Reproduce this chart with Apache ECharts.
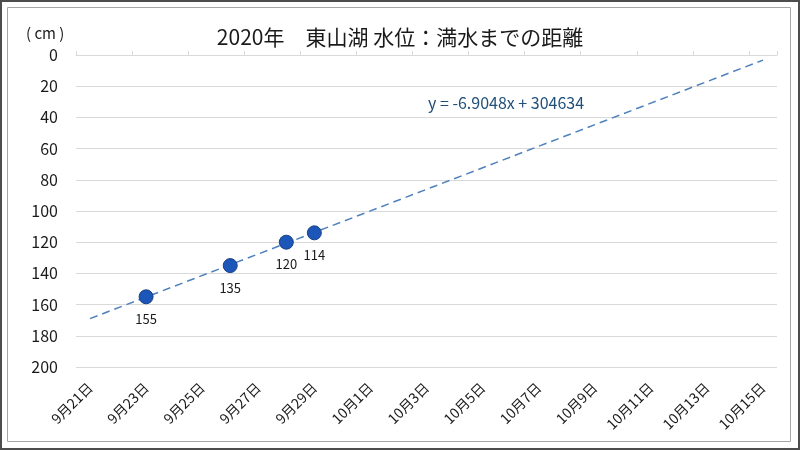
<!DOCTYPE html>
<html>
<head>
<meta charset="utf-8">
<script src="https://cdn.jsdelivr.net/npm/echarts@6/dist/echarts.min.js"></script>
<style>
  html, body { margin: 0; padding: 0; background: #fff; }
  #chart { width: 800px; height: 450px; }
</style>
</head>
<body>
<div id="chart"></div>
<script>
// 日付（カテゴリ）
const dates = [
  '9月21日', '9月22日', '9月23日', '9月24日', '9月25日', '9月26日', '9月27日',
  '9月28日', '9月29日', '9月30日', '10月1日', '10月2日', '10月3日', '10月4日',
  '10月5日', '10月6日', '10月7日', '10月8日', '10月9日', '10月10日', '10月11日',
  '10月12日', '10月13日', '10月14日', '10月15日'
];
// 測定日と満水までの距離（cm）
const measureDates = ['9月23日', '9月26日', '9月28日', '9月29日'];
const distances = [155, 135, 120, 114];
const yTicks = [0, 20, 40, 60, 80, 100, 120, 140, 160, 180, 200];

const FONT = '"Noto Sans CJK JP", "Noto Sans", sans-serif';

// 線形近似（最小二乗）
const xs = measureDates.map(d => dates.indexOf(d));
const n = xs.length;
const mx = xs.reduce((a, b) => a + b, 0) / n;
const my = distances.reduce((a, b) => a + b, 0) / n;
let sxy = 0, sxx = 0;
xs.forEach((x, i) => {
  sxy += (x - mx) * (distances[i] - my);
  sxx += (x - mx) * (x - mx);
});
const slope = sxy / sxx;
const intercept = my - slope * mx;
const trendData = [0, dates.length - 1].map(i => [dates[i], intercept + slope * i]);

const myChart = echarts.init(document.getElementById('chart'));
const option = {
  animation: false,
  title: [
    {
      text: '2020年　東山湖 水位：満水までの距離',
      left: 'center',
      top: 22,
      textStyle: { fontFamily: FONT, fontSize: 21, fontWeight: 'normal', color: '#1a1a1a' }
    },
    {
      text: '( cm )',
      left: 21,
      top: 21,
      textStyle: { fontFamily: FONT, fontSize: 15, fontWeight: 'normal', color: '#1a1a1a' }
    },
    {
      text: 'y = -6.9048x + 304634',
      left: 423,
      top: 90,
      textStyle: { fontFamily: FONT, fontSize: 16, fontWeight: 'normal', color: '#1f4e79' }
    }
  ],
  graphic: [
    {
      type: 'rect',
      shape: { x: 1, y: 1, width: 798, height: 448 },
      style: { fill: 'none', stroke: '#4d4d4d', lineWidth: 2 },
      silent: true
    },
    {
      type: 'rect',
      shape: { x: 7.5, y: 7.5, width: 783, height: 434 },
      style: { fill: 'none', stroke: '#a6a6a6', lineWidth: 1 },
      silent: true
    }
  ],
  grid: {
    left: 76,
    right: 23,
    top: 55,
    bottom: 83
  },
  xAxis: [
    {
      type: 'category',
      data: dates,
      boundaryGap: true,
      axisLine: { show: false, onZero: false },
      axisTick: { show: false },
      splitLine: { show: false },
      axisLabel: {
        interval: 1,
        rotate: 45,
        margin: 18,
        fontFamily: FONT,
        fontSize: 14,
        color: '#1a1a1a'
      }
    },
    {
      type: 'category',
      data: dates,
      position: 'top',
      boundaryGap: true,
      axisLine: { show: true, onZero: false, lineStyle: { color: '#d9d9d9' } },
      axisTick: { show: true, interval: 1, length: 4, lineStyle: { color: '#d9d9d9' } },
      axisLabel: { show: false },
      splitLine: { show: false }
    }
  ],
  yAxis: {
    type: 'value',
    inverse: true,
    min: yTicks[0],
    max: yTicks[yTicks.length - 1],
    interval: 20,
    axisLine: { show: false },
    axisTick: { show: false },
    axisLabel: {
      margin: 18,
      fontFamily: FONT,
      fontSize: 16,
      color: '#1a1a1a'
    },
    splitLine: { lineStyle: { color: '#d9d9d9', width: 1 } }
  },
  series: [
    {
      name: '近似',
      type: 'line',
      data: trendData,
      symbol: 'none',
      silent: true,
      lineStyle: { color: '#4f81bd', width: 1.5, type: [8, 5] },
      z: 2
    },
    {
      name: '距離',
      type: 'scatter',
      data: measureDates.map((d, i) => [d, distances[i]]),
      symbolSize: 14,
      itemStyle: { color: '#1c56b8', borderColor: '#173f85', borderWidth: 1, opacity: 1 },
      label: {
        show: true,
        position: 'bottom',
        distance: 8,
        fontFamily: FONT,
        fontSize: 13,
        color: '#1a1a1a',
        formatter: p => p.value[1]
      },
      z: 3
    }
  ]
};
myChart.setOption(option);
</script>
</body>
</html>
